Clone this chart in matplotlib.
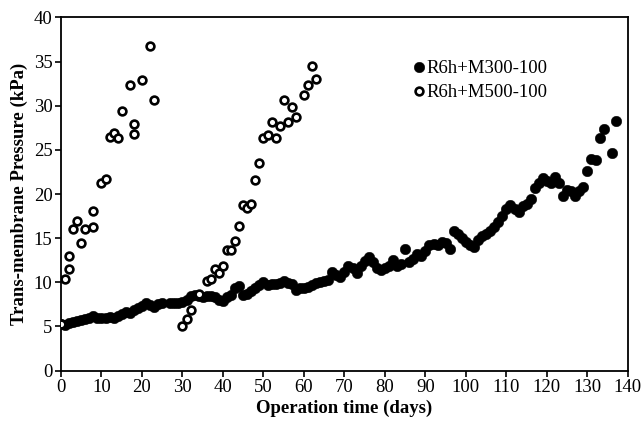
import matplotlib.pyplot as plt

plt.rcParams['font.family'] = ['Liberation Serif', 'DejaVu Serif']

# R6h+M300-100 (filled)
days_300 = list(range(0, 26)) + list(range(27, 135)) + [136, 137]
tmp_300 = [5.3, 5.2, 5.4, 5.5, 5.6, 5.7, 5.9, 6.0, 6.2, 6.0,
           6.0, 6.0, 6.1, 6.0, 6.2, 6.4, 6.6, 6.5, 6.9, 7.1,
           7.3, 7.6, 7.4, 7.2, 7.5, 7.7,
           7.7, 7.7, 7.7, 7.8, 8.0, 8.5, 8.6, 8.4, 8.3, 8.4,
           8.5, 8.3, 8.0, 7.9, 8.3, 8.6, 9.3, 9.6, 8.6, 8.7,
           9.0, 9.3, 9.7, 10.0, 9.7, 9.8, 9.8, 9.9, 10.1, 9.9,
           9.8, 9.1, 9.3, 9.4, 9.5, 9.7, 9.9, 10.0, 10.1, 10.3,
           11.2, 10.8, 10.6, 11.2, 11.8, 11.6, 11.1, 11.8, 12.4, 12.9,
           12.3, 11.6, 11.4, 11.6, 11.9, 12.5, 11.9, 12.1, 13.8, 12.3,
           12.6, 13.2, 13.0, 13.5, 14.2, 14.3, 14.2, 14.6, 14.4, 13.8,
           15.8, 15.5, 15.0, 14.6, 14.2, 14.0, 14.8, 15.3, 15.5, 15.8,
           16.3, 16.8, 17.5, 18.3, 18.7, 18.3, 18.0, 18.6, 18.9, 19.4,
           20.7, 21.2, 21.8, 21.5, 21.3, 21.9, 21.2, 19.8, 20.4, 20.3,
           19.8, 20.3, 20.8, 22.6, 24.0, 23.8, 26.4, 27.4,
           24.6, 28.3]

# R6h+M500-100 (open), two runs
days_500 = [0, 1, 2, 2, 3, 4, 5, 6, 8, 8, 10, 11, 12, 13, 14, 15, 17, 18, 18, 20, 22, 23,
            30, 31, 32, 34, 36, 37, 38, 39, 40, 41, 42, 43, 44, 45, 46, 47, 48, 49,
            50, 51, 52, 53, 54, 55, 56, 57, 58, 60, 61, 62, 63]
tmp_500 = [5.3, 10.4, 11.5, 13.0, 16.0, 17.0, 14.4, 16.0, 16.3, 18.1, 21.2, 21.7,
           26.5, 26.9, 26.4, 29.4, 32.4, 27.9, 26.8, 32.9, 36.8, 30.7,
           5.0, 5.9, 6.9, 8.7, 10.1, 10.4, 11.5, 11.1, 11.8, 13.7, 13.7, 14.7,
           16.4, 18.8, 18.4, 18.9, 21.6, 23.5, 26.4, 26.7, 28.2, 26.4, 27.7,
           30.6, 28.2, 29.8, 28.7, 31.2, 32.3, 34.5, 33.0]

fig = plt.figure(figsize=(6.44, 4.25), dpi=100)
ax = fig.add_axes([0.0947, 0.128, 0.8803, 0.831])

ax.plot(days_300, tmp_300, 'o', color='black', ms=7.6, mew=0.3,
        label='R6h+M300-100', zorder=2)
ax.plot(days_500, tmp_500, 'o', mfc='white', mec='black', ms=5.6, mew=1.9,
        label='R6h+M500-100', zorder=3)

ax.set_xlim(0, 140)
ax.set_ylim(0, 40)
ax.set_xticks(range(0, 141, 10))
ax.set_yticks(range(0, 41, 5))
ax.tick_params(direction='out', length=4, width=1.2, labelsize=13.5,
               top=False, right=False, pad=2)
for s in ax.spines.values():
    s.set_linewidth(1.3)

ax.set_xlabel('Operation time (days)', fontsize=13.5, fontweight='bold', labelpad=3)
ax.set_ylabel('Trans-membrane Pressure (kPa)', fontsize=13.5, fontweight='bold', labelpad=4)

ax.legend(loc='upper left', bbox_to_anchor=(0.605, 0.905), frameon=False,
          fontsize=13.5, handlelength=0.6, handletextpad=0.1, labelspacing=0.35,
          borderpad=0)

fig.savefig('out.png', dpi=100)
